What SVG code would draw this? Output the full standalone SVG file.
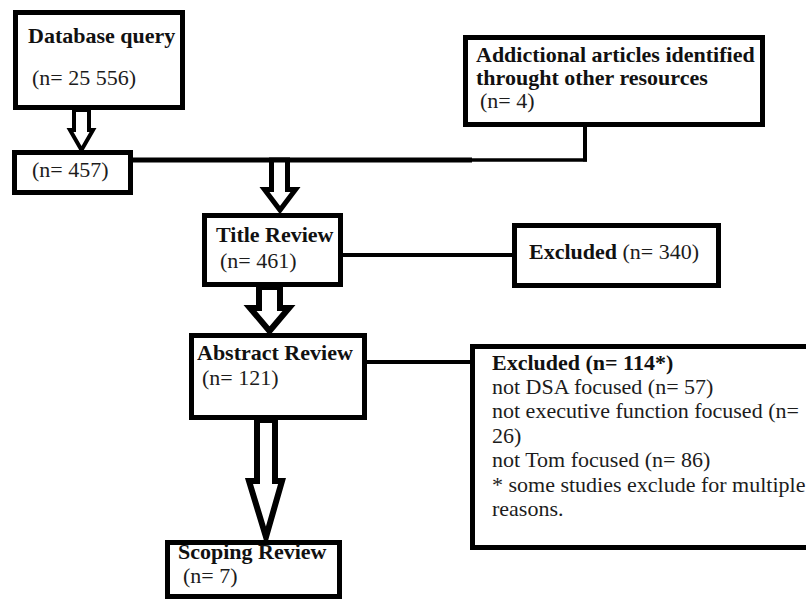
<svg xmlns="http://www.w3.org/2000/svg" width="806" height="599" viewBox="0 0 806 599">
<style>
.box{fill:#fff;stroke:#000;stroke-width:5}
.arr{fill:#fff;stroke:#000;stroke-linejoin:miter}
.ln{stroke:#000;fill:none}
text{font-family:"Liberation Serif","Times New Roman",Times,serif;font-size:22px;fill:#1c1c1c}
.b{font-weight:bold;fill:#111}
</style>
<rect width="806" height="599" fill="#fff"/>
<g id="connectors">
<line class="ln" x1="131" y1="160" x2="472" y2="160" stroke-width="5"/>
<line class="ln" x1="470" y1="160" x2="587" y2="160" stroke-width="3.5"/>
<line class="ln" x1="585" y1="125" x2="585" y2="161.5" stroke-width="4"/>
<line class="ln" x1="341" y1="255" x2="514" y2="255" stroke-width="4"/>
<line class="ln" x1="365" y1="362" x2="472" y2="362" stroke-width="4"/>
<polygon class="arr" stroke-width="4" points="74,110 89,110 89,130 93,130 81.5,150 70,130 74,130"/>
<polygon class="arr" stroke-width="5" points="271.5,160 287.5,160 287.5,189.5 295.5,189.5 280,210 264.5,189.5 271.5,189.5"/>
<polygon class="arr" stroke-width="6" points="259,287 280,287 280,308 289,308 269.5,331 250,308 259,308"/>
<polygon class="arr" stroke-width="6" points="257,420 275,420 275,481 282,481 266,537 249,481 257,481"/>
</g>
<g id="database">
<rect class="box" x="15.5" y="12.5" width="167" height="95"/>
<text class="b" x="28" y="43">Database query</text>
<text x="32" y="85">(n= 25 556)</text>
</g>
<g id="n457">
<rect class="box" x="14.5" y="152.5" width="116" height="40"/>
<text x="32" y="177">(n= 457)</text>
</g>
<g id="additional">
<rect class="box" x="465.5" y="37.5" width="297" height="87"/>
<text class="b" x="476" y="62">Addictional articles identified</text>
<text class="b" x="476" y="85">throught other resources</text>
<text x="480" y="108">(n= 4)</text>
</g>
<g id="title">
<rect class="box" x="204.5" y="215.5" width="136" height="69"/>
<text class="b" x="216" y="242">Title Review</text>
<text x="220" y="268">(n= 461)</text>
</g>
<g id="excluded340">
<rect class="box" x="514.5" y="225.5" width="204" height="60"/>
<text x="529" y="259"><tspan class="b">Excluded</tspan> (n= 340)</text>
</g>
<g id="abstract">
<rect class="box" x="191.5" y="335.5" width="173" height="82"/>
<text class="b" x="197" y="360">Abstract Review</text>
<text x="202" y="385">(n= 121)</text>
</g>
<g id="excluded114">
<rect class="box" x="472.5" y="346.5" width="350" height="201"/>
<text class="b" x="492" y="370">Excluded (n= 114*)</text>
<text x="492" y="394">not DSA focused (n= 57)</text>
<text x="492" y="418">not executive function focused (n=</text>
<text x="492" y="443">26)</text>
<text x="492" y="467">not Tom focused (n= 86)</text>
<text x="492" y="492">* some studies exclude for multiple</text>
<text x="492" y="516">reasons.</text>
</g>
<g id="scoping">
<rect class="box" x="167.5" y="542.5" width="172" height="54"/>
<text class="b" x="178" y="559">Scoping Review</text>
<text x="183" y="583">(n= 7)</text>
</g>
</svg>
